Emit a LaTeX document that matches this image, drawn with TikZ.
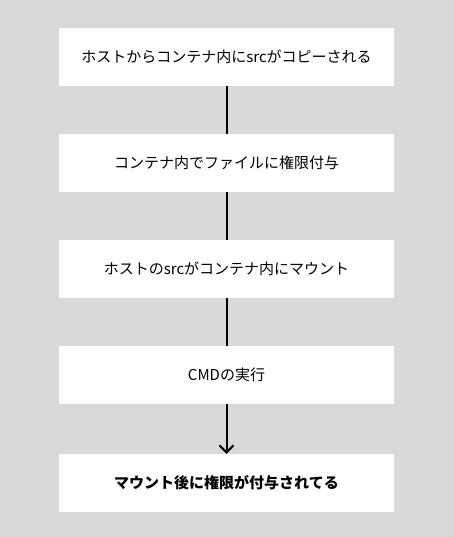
\documentclass[tikz,border=0pt]{standalone}
\usepackage{fontspec}
\setmainfont{Noto Sans CJK JP}
\usetikzlibrary{arrows.meta}

\definecolor{bggray}{HTML}{D9D9D9}

\tikzset{
  stepbox/.style={fill=white, minimum width=335pt, minimum height=58pt, inner sep=0pt,
    font=\fontsize{15pt}{17pt}\selectfont},
  flowline/.style={line width=2pt, black}
}

\begin{document}
\begin{tikzpicture}[x=1pt, y=1pt]
	% background
	\fill[bggray] (0,0) rectangle (454,537);
	\useasboundingbox (0,0) rectangle (454,537);
	% steps
	\node[stepbox] (copy) at (226.5,480) {ホストからコンテナ内にsrcがコピーされる};
	\node[stepbox] (chmod) at (226.5,374) {コンテナ内でファイルに権限付与};
	\node[stepbox] (mount) at (226.5,268) {ホストのsrcがコンテナ内にマウント};
	\node[stepbox] (cmd) at (226.5,162) {CMDの実行};
	\node[stepbox, font=\fontsize{15pt}{17pt}\selectfont\bfseries] (result) at (226.5,54) {マウント後に権限が付与されてる};
	% connectors
	\draw[flowline] (copy) -- (chmod);
	\draw[flowline] (chmod) -- (mount);
	\draw[flowline] (mount) -- (cmd);
	\draw[flowline, -{Straight Barb[length=7pt, width=14pt, line width=2pt]}] (cmd) -- (result);
\end{tikzpicture}
\end{document}
